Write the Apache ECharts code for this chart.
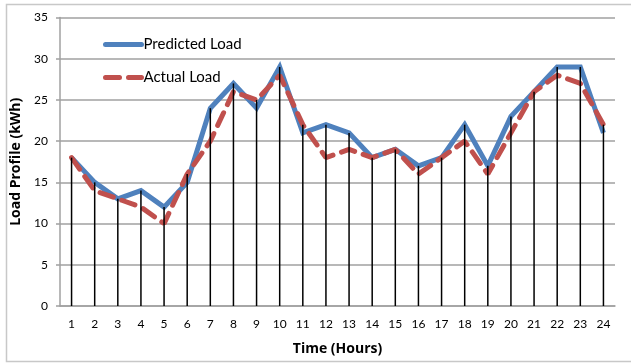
<!DOCTYPE html>
<html>
<head>
<meta charset="utf-8">
<script src="https://cdn.jsdelivr.net/npm/echarts@6/dist/echarts.min.js"></script>
<style>
html,body{margin:0;padding:0;background:#fff;}
#c{width:631px;height:363px;}
</style>
</head>
<body>
<div id="c"></div>
<script>
const hours = ['1','2','3','4','5','6','7','8','9','10','11','12','13','14','15','16','17','18','19','20','21','22','23','24'];
const predictedLoad = [18,15,13,14,12,15,24,27,24,29,21,22,21,18,19,17,18,22,17,23,26,29,29,21];
const actualLoad = [18,14,13,12,10,16,20,26,25,28,22,18,19,18,19,16,18,20,16,21,26,28,27,22];
const yTicks = [0,5,10,15,20,25,30,35];

const dropLines = predictedLoad.map((v, i) => Math.max(v, actualLoad[i]));
const FONT = 'Lato, "Open Sans", sans-serif';

const chart = echarts.init(document.getElementById('c'), null, {renderer: 'canvas'});
chart.setOption({
  animation: false,
  backgroundColor: '#fff',
  graphic: [{
    type: 'rect',
    shape: {x: 6.5, y: 4.5, width: 640, height: 357},
    style: {fill: 'none', stroke: '#c8c8c8', lineWidth: 1.5},
    silent: true, z: -10
  }],
  grid: {left: 60, right: 16, top: 17.5, bottom: 57, containLabel: false},
  legend: {
    orient: 'vertical',
    left: 98, top: 32,
    itemWidth: 36, itemHeight: 14,
    itemGap: 18,
    data: ['Predicted Load', 'Actual Load'],
    itemStyle: {opacity: 0},
    lineStyle: {width: 5, cap: 'round'},
    textStyle: {fontFamily: FONT, fontSize: 15, color: '#000', padding: [0,0,0,-3]}
  },
  xAxis: {
    type: 'category',
    data: hours,
    boundaryGap: true,
    name: 'Time (Hours)',
    nameLocation: 'middle',
    nameGap: 36,
    nameTextStyle: {fontFamily: '"Open Sans", Lato, sans-serif', fontSize: 14, fontWeight: 'bold', color: '#000'},
    axisLine: {lineStyle: {color: '#a0a0a0', width: 1.5}},
    axisTick: {show: false},
    axisLabel: {fontFamily: FONT, fontSize: 12, color: '#000', margin: 12},
    splitLine: {show: false}
  },
  yAxis: {
    type: 'value',
    min: yTicks[0], max: yTicks[yTicks.length - 1], interval: 5,
    name: 'Load Profile (kWh)',
    nameLocation: 'middle',
    nameGap: 30,
    nameTextStyle: {fontFamily: '"Open Sans", Lato, sans-serif', fontSize: 14, fontWeight: 'bold', color: '#000'},
    axisLine: {show: true, lineStyle: {color: '#a0a0a0', width: 1.5}},
    axisTick: {show: true, length: 4, lineStyle: {color: '#a0a0a0', width: 1.5}},
    axisLabel: {fontFamily: FONT, fontSize: 12, color: '#000', margin: 12},
    splitLine: {show: true, lineStyle: {color: '#a0a0a0', width: 1.5}}
  },
  series: [
    {
      name: 'Predicted Load',
      type: 'line',
      data: predictedLoad,
      symbol: 'none',
      lineStyle: {color: '#4F81BD', width: 5, join: 'miter'},
      itemStyle: {color: '#4F81BD'},
      z: 3
    },
    {
      name: 'Actual Load',
      type: 'line',
      data: actualLoad,
      symbol: 'none',
      lineStyle: {color: '#C0504D', width: 5, type: [14, 9], cap: 'round'},
      itemStyle: {color: '#C0504D'},
      z: 4
    },
    {
      name: 'drop',
      type: 'bar',
      data: dropLines,
      barWidth: 1.5,
      itemStyle: {color: '#000'},
      z: 5,
      silent: true
    }
  ]
});
</script>
</body>
</html>
